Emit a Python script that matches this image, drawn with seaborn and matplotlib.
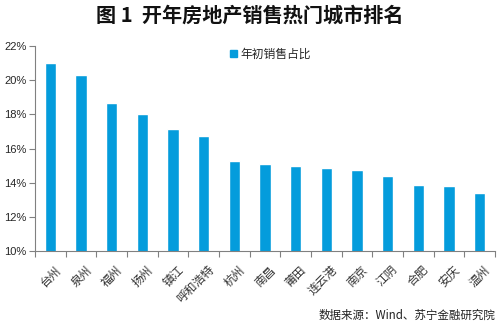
import matplotlib
matplotlib.use("Agg")
import matplotlib.pyplot as plt
import matplotlib.transforms as mtrans
import seaborn as sns
import pandas as pd
import numpy as np
from matplotlib.ticker import FuncFormatter, FixedLocator
from matplotlib.patches import Rectangle

cities = ["台州", "泉州", "福州", "扬州", "镇江", "呼和浩特", "杭州", "南昌",
          "莆田", "连云港", "南京", "江阴", "合肥", "安庆", "温州"]
share = [21.0, 20.33, 18.65, 18.0, 17.16, 16.73, 15.29, 15.07,
         14.96, 14.84, 14.72, 14.39, 13.85, 13.79, 13.41]
series_name = "年初销售占比"
title = "图 1  开年房地产销售热门城市排名"
source = "数据来源：Wind、苏宁金融研究院"
yticks = [10, 12, 14, 16, 18, 20, 22]

sns.set_theme(style="white")
plt.rcParams["font.family"] = ["Noto Sans CJK SC", "DejaVu Sans"]

color = "#049CDC"
df = pd.DataFrame({"city": cities, "share": share})

fig = plt.figure(figsize=(5, 3.25), dpi=100)
ax = fig.add_axes([0.07, 0.228, 0.92, 0.63])
sns.barplot(data=df, x="city", y="share", color=color, width=0.38,
            saturation=1, ax=ax)

ax.set_ylim(10, 22)
ax.set_xlim(-0.5, len(cities) - 0.5)
ax.set_yticks(yticks)
ax.yaxis.set_major_formatter(FuncFormatter(lambda v, p: f"{v:.0f}%"))
for lab in ax.get_yticklabels():
    lab.set_fontfamily(["Liberation Sans", "DejaVu Sans"])
ax.tick_params(axis="y", labelsize=8, length=4, width=0.8, color="#808080",
               left=True, pad=2)
ax.set_xticks(range(len(cities)))
ax.set_xticklabels(cities, rotation=45, ha="right", rotation_mode="anchor",
                   fontsize=8.5, color="#333333")
ax.tick_params(axis="x", which="major", length=0, pad=9)
offset = mtrans.ScaledTranslation(4 / 100, 0, fig.dpi_scale_trans)
for lab in ax.get_xticklabels():
    lab.set_transform(lab.get_transform() + offset)
ax.xaxis.set_minor_locator(FixedLocator(np.arange(-0.5, len(cities), 1.0)))
ax.tick_params(axis="x", which="minor", bottom=True, length=4, width=0.8,
               color="#808080")
ax.set_xlabel("")
ax.set_ylabel("")
for s in ["top", "right"]:
    ax.spines[s].set_visible(False)
for s in ["left", "bottom"]:
    ax.spines[s].set_color("#808080")
    ax.spines[s].set_linewidth(0.8)

handle = Rectangle((0, 0), 1, 1, color=color)
ax.legend([handle], [series_name], loc="upper left",
          bbox_to_anchor=(0.40, 1.045), frameon=False, fontsize=8.5,
          handlelength=0.6, handleheight=0.6, handletextpad=0.3)

fig.text(0.5, 0.953, title, ha="center", va="center", fontsize=14.5,
         fontweight="bold", color="#111111")
fig.text(0.99, 0.03, source, ha="right", va="center", fontsize=8.3,
         style="italic", color="#222222")

fig.savefig("out.png", dpi=100, facecolor="white")
